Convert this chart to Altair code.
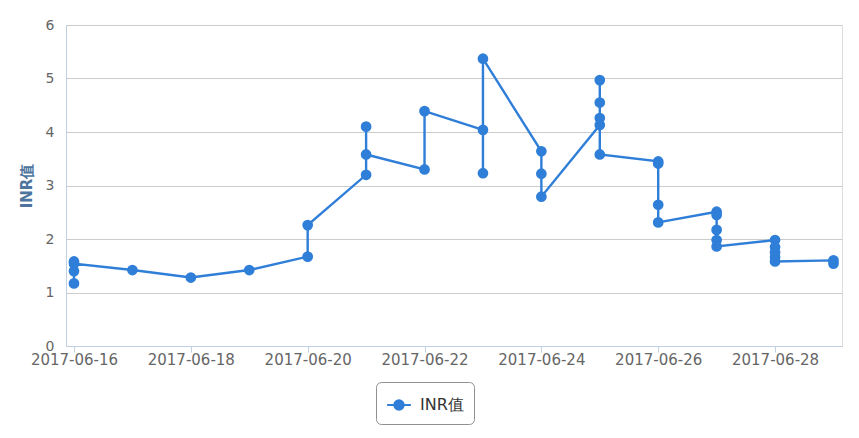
import altair as alt
import pandas as pd

days = (["2017-06-16"] * 4 + ["2017-06-17", "2017-06-18", "2017-06-19"]
        + ["2017-06-20"] * 2 + ["2017-06-21"] * 3 + ["2017-06-22"] * 2
        + ["2017-06-23"] * 3 + ["2017-06-24"] * 3 + ["2017-06-25"] * 5
        + ["2017-06-26"] * 4 + ["2017-06-27"] * 5 + ["2017-06-28"] * 5
        + ["2017-06-29"] * 2)
inr = [1.17, 1.40, 1.58, 1.54,
       1.42, 1.28, 1.42,
       1.67, 2.26,
       3.20, 4.10, 3.58,
       3.30, 4.39,
       4.04, 3.23, 5.37,
       3.64, 3.22, 2.79,
       4.13, 4.97, 4.55, 4.26, 3.58,
       3.45, 3.41, 2.64, 2.31,
       2.51, 2.45, 2.17, 1.98, 1.86,
       1.98, 1.85, 1.75, 1.66, 1.58,
       1.60, 1.54]
series_name = "INR值"
tick_days = [16, 18, 20, 22, 24, 26, 28]
y_ticks = [0, 1, 2, 3, 4, 5, 6]

df = pd.DataFrame({"date": days, "inr": inr, "seq": list(range(len(inr))),
                   "series": [series_name] * len(inr)})

BLUE = "#2f7ed8"
FONT = "DejaVu Sans"

x_enc = alt.X(
    "date:T",
    scale=alt.Scale(type="utc",
                    domain=[alt.DateTime(year=2017, month=6, date=15, hours=20, minutes=43, utc=True),
                            alt.DateTime(year=2017, month=6, date=29, hours=3, minutes=30, utc=True)]),
    axis=alt.Axis(
        values=[alt.DateTime(year=2017, month=6, date=d, utc=True) for d in tick_days],
        format="%Y-%m-%d", title=None, grid=False,
        domainColor="#C0D0E0", tickColor="#C0D0E0", tickSize=6,
        labelColor="#666666", labelFontSize=15, labelFont=FONT, labelPadding=0,
        labelFlush=False),
)
y_enc = alt.Y(
    "inr:Q",
    scale=alt.Scale(domain=[0, 6], nice=False),
    axis=alt.Axis(
        values=y_ticks, title="INR值", titleColor="#4d759e", titleFontSize=15,
        titleFont=FONT, titleFontWeight="bold", titlePadding=11,
        labelColor="#666666", labelFontSize=14, labelFont=FONT, labelPadding=12,
        ticks=False, domainColor="#C0D0E0", gridColor="#CCCCCC", gridWidth=1),
)

color_enc = alt.Color(
    "series:N",
    scale=alt.Scale(range=[BLUE]),
    legend=alt.Legend(
        title=None, orient="none", legendX=310, legendY=357,
        strokeColor="#909090", cornerRadius=5, padding=10,
        symbolType="M-1,0 L1,0 M-0.4,0 A0.4,0.4 0 1,0 0.4,0 A0.4,0.4 0 1,0 -0.4,0",
        symbolSize=560, symbolStrokeWidth=2, symbolFillColor=BLUE, symbolStrokeColor=BLUE,
        labelFontSize=16, labelColor="#333333", labelFont=FONT, labelOffset=8),
)

line = alt.Chart(df).mark_line(strokeWidth=2.4).encode(
    x=x_enc, y=y_enc, order="seq:Q", color=color_enc)
pts = alt.Chart(df).mark_circle(size=115, opacity=1).encode(
    x=x_enc, y=y_enc, color=alt.Color("series:N", scale=alt.Scale(range=[BLUE]), legend=None))

chart = (line + pts).properties(
    width=776, height=321,
    autosize=alt.AutoSizeParams(type="none"),
    padding={"left": 58, "top": 17, "right": 9, "bottom": 92},
).configure_view(stroke=None).configure(background="white")

chart.save("out.html", embed_options={"renderer": "svg", "actions": False})
